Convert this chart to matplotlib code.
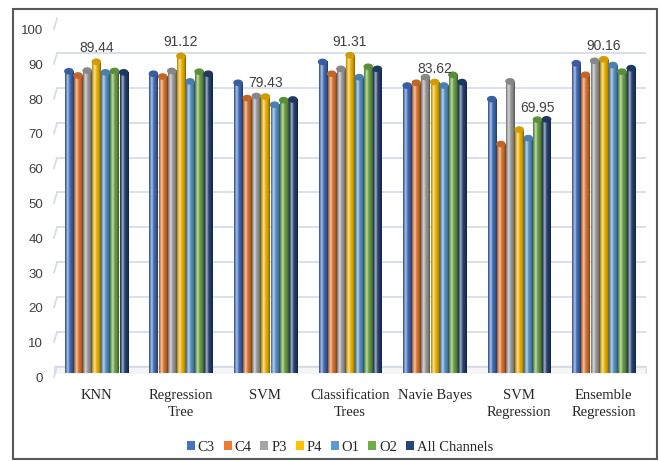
import numpy as np
import matplotlib
matplotlib.use("Agg")
import matplotlib.pyplot as plt
from matplotlib.colors import to_rgb
from matplotlib.lines import Line2D
from matplotlib.patches import Ellipse, Patch, Rectangle
from matplotlib.transforms import ScaledTranslation, IdentityTransform

# accuracy (%) of each classifier per EEG channel
models = ["KNN", "Regression\nTree", "SVM", "Classification\nTrees",
          "Navie Bayes", "SVM\nRegression", "Ensemble\nRegression"]
channels = ["C3", "C4", "P3", "P4", "O1", "O2", "All Channels"]

c3 = [86.7, 86.0, 83.4, 89.4, 82.6, 78.7, 89.0]
c4 = [85.5, 85.2, 79.0, 86.0, 83.4, 65.8, 85.7]
p3 = [86.9, 86.8, 79.6, 87.4, 85.0, 83.8, 89.7]
p4 = [89.44, 91.12, 79.43, 91.31, 83.62, 69.95, 90.16]
o1 = [86.4, 83.8, 77.1, 85.0, 82.6, 67.5, 88.5]
o2 = [86.8, 86.6, 78.4, 88.0, 85.7, 72.8, 86.6]
all_ch = [86.4, 86.0, 78.6, 87.4, 83.6, 72.9, 87.6]
series = [c3, c4, p3, p4, o1, o2, all_ch]
yticks = list(range(0, 101, 10))

colors = ["#4472C4", "#ED7D31", "#A5A5A5", "#FFC000", "#5B9BD5", "#70AD47", "#264478"]

W, H = 661, 461
fig = plt.figure(figsize=(W / 100, H / 100), dpi=100)
ax = fig.add_axes([54 / W, (H - 373) / H, 592 / W, 348 / H])
ax.set_autoscale_on(False)
ax.set_xlim(-0.5, 6.5)
ax.set_ylim(0, 100)
for s in ax.spines.values():
    s.set_visible(False)


def px(dx, dy):
    return ScaledTranslation(dx / 100, dy / 100, fig.dpi_scale_trans)


grid_col = "#d6dde8"
back = ax.transData + px(3, 6.5)
front = ax.transData + px(0, -4)

# floor of the 3-D plot area
ax.fill_between([-0.5, 6.5], 0, 10.5 / 3.48, transform=front,
                color="#f4f5f7", ec=grid_col, lw=1.0, zorder=0)

# back-wall gridlines with the side-wall stubs
for v in yticks:
    ax.plot([-0.5, 6.5], [v, v], color=grid_col, lw=1.3, transform=back, zorder=0.5)
    p0 = front.transform((-0.5, v))
    p1 = back.transform((-0.5, v))
    fig.add_artist(Line2D([p0[0], p1[0]], [p0[1], p1[1]], color=grid_col, lw=1.3,
                          transform=IdentityTransform()))
    ax.text(-0.5, v, str(v), transform=front + px(-11, -2), ha="right", va="center",
            family="Liberation Sans", fontsize=9.5, color="#404040")


def cylinder_shade(color, n=40):
    base = np.array(to_rgb(color))
    t = np.linspace(0, 1, n)
    hl = 0.55 * np.exp(-((t - 0.3) / 0.16) ** 2)
    dark = 1 - 0.32 * np.abs(2 * t - 1) ** 3 - 0.2 * t
    rgb = base[None, :] * dark[:, None]
    rgb = rgb + (1 - rgb) * hl[:, None]
    return np.clip(rgb, 0, 1)[None, :, :]


slot = 0.108
bw = 0.096
x = np.arange(len(models))
for i, (vals, col) in enumerate(zip(series, colors)):
    shade = cylinder_shade(col)
    cap = np.array(to_rgb(col)) * 0.82
    for xc, v in zip(x + (i - 3) * slot, vals):
        ax.imshow(shade, extent=(xc - bw / 2, xc + bw / 2, 0, v), aspect="auto",
                  interpolation="bilinear", zorder=2 + i * 0.01)
        ax.add_patch(Ellipse((xc, v), bw, 1.5, color=cap, zorder=2.5 + i * 0.01))

# value labels over the P4 bars
for xc, v in zip(x, p4):
    off = (18, 21.6) if v < 75 else (0, 13.5)
    ax.annotate(f"{v:.2f}", xy=(xc, v), xytext=off, textcoords="offset pixels",
                ha="center", va="center", fontsize=10, color="#404040",
                family="Liberation Sans", zorder=5)

ax.set_yticks([])
ax.set_xticks(x)
ax.set_xticklabels(models, family="Liberation Serif", fontsize=10.5,
                   color="#262626", linespacing=1.4)
ax.tick_params(axis="x", length=0, pad=11.5)

handles = [Patch(facecolor=c, edgecolor="none") for c in colors]
fig.legend(handles, channels, loc="center", ncol=7,
           bbox_to_anchor=(340 / W, 1 - 447 / H), frameon=False,
           prop=dict(family="Liberation Serif", size=10.5),
           handlelength=0.55, handleheight=0.55, handletextpad=0.2,
           columnspacing=0.6, labelcolor="#262626")

fig.patches.append(Rectangle((12.7 / W, 2 / H), 644.5 / W, 450 / H,
                             transform=fig.transFigure, fill=False,
                             ec="#595959", lw=1.5))

fig.savefig("out.png", dpi=100, facecolor="white")
